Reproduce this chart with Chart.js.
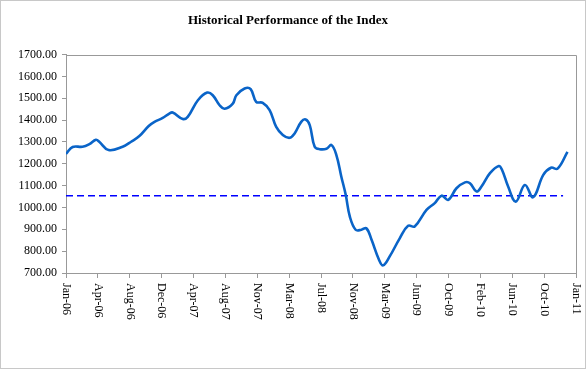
<!DOCTYPE html>
<html lang="en">
<head>
  <meta charset="UTF-8">
  <title>Historical Performance of the Index</title>
  <style>
    body {
      margin: 0;
      background-color: #ffffff;
    }
    #wrap {
      width: 588px;
      height: 370px;
      position: relative;
    }
  </style>
  <script src="https://cdn.jsdelivr.net/npm/chart.js"></script>
</head>
<body>
  <div id="wrap">
    <canvas id="indexChart" width="588" height="370"></canvas>
  </div>

  <script>
    // dates of the readings
    const dates = [
      '2006-01-01', '2006-01-25', '2006-03-02', '2006-03-27', '2006-04-20', '2006-05-02',
      '2006-06-05', '2006-07-26', '2006-08-26', '2006-09-25', '2006-10-29', '2006-11-19',
      '2006-12-19', '2007-01-12', '2007-01-24', '2007-03-02', '2007-03-20', '2007-04-26',
      '2007-05-30', '2007-06-19', '2007-07-14', '2007-08-01', '2007-08-31', '2007-09-13',
      '2007-10-13', '2007-11-04', '2007-11-24', '2007-12-18', '2008-01-12', '2008-02-05',
      '2008-02-29', '2008-03-25', '2008-04-12', '2008-05-06', '2008-05-22', '2008-06-06',
      '2008-06-24', '2008-07-12', '2008-08-06', '2008-08-24', '2008-09-11', '2008-09-29',
      '2008-10-15', '2008-10-30', '2008-11-20', '2008-12-11', '2008-12-29', '2009-01-17',
      '2009-02-13', '2009-02-28', '2009-03-24', '2009-04-30', '2009-05-30', '2009-06-23',
      '2009-08-05', '2009-09-04', '2009-09-29', '2009-10-23', '2009-11-22', '2009-12-23',
      '2010-01-10', '2010-02-03', '2010-02-21', '2010-03-24', '2010-04-25', '2010-05-07',
      '2010-05-29', '2010-06-26', '2010-07-29', '2010-08-28', '2010-10-04', '2010-11-01',
      '2010-11-25', '2010-12-31'
    ];

    const indexValues = [
      1245, 1277, 1278, 1290, 1310, 1301,
      1263, 1278, 1301, 1327, 1373, 1392,
      1410, 1430, 1435, 1405, 1415, 1491,
      1526, 1514, 1468, 1452, 1476, 1514,
      1545, 1542, 1484, 1479, 1446, 1369,
      1332, 1319, 1339, 1392, 1403, 1377,
      1278, 1267, 1269, 1286, 1240, 1141,
      1058, 958, 898, 898, 905, 852,
      761, 735, 776, 860, 916, 913,
      989, 1020, 1054, 1035, 1088, 1115,
      1111, 1073, 1096, 1157, 1190, 1172,
      1096, 1027, 1103, 1047, 1149, 1182,
      1178, 1255
    ];

    // reference level (dashed line)
    const baseDates = ['2006-01-01', '2010-12-15'];
    const baseValues = [1054, 1054];

    // x-axis tick labels, one every 116 days from Jan-06
    const tickLabels = [
      'Jan-06', 'Apr-06', 'Aug-06', 'Dec-06', 'Apr-07', 'Aug-07', 'Nov-07', 'Mar-08',
      'Jul-08', 'Nov-08', 'Mar-09', 'Jun-09', 'Oct-09', 'Feb-10', 'Jun-10', 'Oct-10', 'Jan-11'
    ];
    const tickStepDays = 116;

    const startMs = Date.UTC(2006, 0, 1);
    function dayOf(s) {
      const p = s.split('-').map(Number);
      return (Date.UTC(p[0], p[1] - 1, p[2]) - startMs) / 86400000;
    }

    const serif = "'Liberation Serif', 'Times New Roman', serif";

    // frame round the whole picture, box round the plot, and the vertical x labels
    const decorations = {
      id: 'decorations',
      afterDraw(chart) {
        const ctx = chart.ctx;
        const area = chart.chartArea;
        const xs = chart.scales.x;
        ctx.save();
        ctx.strokeStyle = '#c8c8c8';
        ctx.lineWidth = 1;
        ctx.strokeRect(0.5, 0.5, 585, 368);

        ctx.strokeStyle = '#999999';
        ctx.beginPath();
        ctx.moveTo(Math.round(area.left) + 0.5, Math.round(area.top) + 0.5);
        ctx.lineTo(Math.round(area.right) + 0.5, Math.round(area.top) + 0.5);
        ctx.lineTo(Math.round(area.right) + 0.5, Math.round(area.bottom) + 0.5);
        ctx.stroke();

        ctx.fillStyle = '#000000';
        ctx.font = '12px ' + serif;
        ctx.textAlign = 'left';
        ctx.textBaseline = 'middle';
        xs.ticks.forEach((t, i) => {
          const px = xs.getPixelForValue(t.value);
          ctx.save();
          ctx.translate(px, area.bottom + 10);
          ctx.rotate(Math.PI / 2);
          ctx.fillText(tickLabels[i] || '', 0, 0);
          ctx.restore();
        });
        ctx.restore();
      }
    };

    const ctx = document.getElementById('indexChart').getContext('2d');
    new Chart(ctx, {
      type: 'line',
      data: {
        datasets: [
          {
            label: 'Index',
            data: dates.map((d, i) => ({ x: dayOf(d), y: indexValues[i] })),
            borderColor: '#0a64c8',
            borderWidth: 2.6,
            pointRadius: 0,
            tension: 0.4,
            fill: false
          },
          {
            label: 'Level',
            data: baseDates.map((d, i) => ({ x: dayOf(d), y: baseValues[i] })),
            borderColor: '#0000ff',
            borderWidth: 1.5,
            borderDash: [7, 4],
            pointRadius: 0,
            fill: false
          }
        ]
      },
      options: {
        responsive: false,
        animation: false,
        layout: { padding: { left: 0, right: 12, top: 0, bottom: 0 } },
        plugins: {
          legend: { display: false },
          tooltip: { enabled: false },
          title: {
            display: true,
            text: 'Historical Performance of the Index',
            color: '#000000',
            font: { family: serif, size: 13, weight: 'bold', lineHeight: 1.2 },
            padding: { top: 13, bottom: 26 }
          }
        },
        scales: {
          x: {
            type: 'linear',
            min: 0,
            max: tickStepDays * (tickLabels.length - 1),
            ticks: { display: false, stepSize: tickStepDays },
            grid: { drawOnChartArea: false, drawTicks: true, tickLength: 5, color: '#999999' },
            border: { display: true, color: '#999999' },
            afterFit(scale) { scale.height = 97; }
          },
          y: {
            min: 700,
            max: 1700,
            ticks: {
              stepSize: 100,
              color: '#000000',
              font: { family: serif, size: 12 },
              padding: 5,
              callback: (v) => Number(v).toFixed(2)
            },
            grid: { drawOnChartArea: false, drawTicks: true, tickLength: 4, color: '#999999' },
            border: { display: true, color: '#999999' },
            afterFit(scale) { scale.width = 66; }
          }
        }
      },
      plugins: [decorations]
    });
  </script>
</body>
</html>
